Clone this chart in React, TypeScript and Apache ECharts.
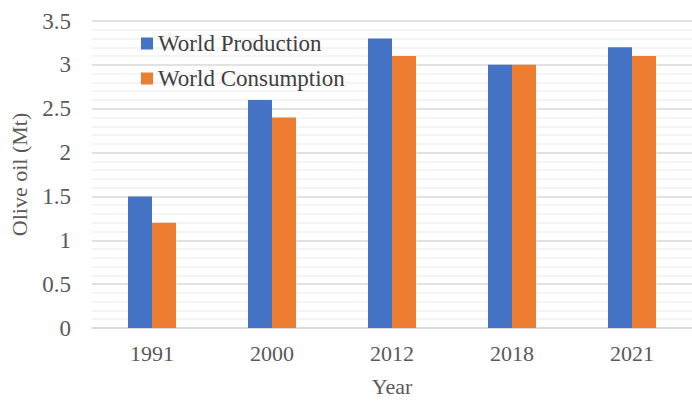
import React, { useEffect, useRef } from "react";
import * as echarts from "echarts";

const years = ["1991", "2000", "2012", "2018", "2021"];
const production = [1.5, 2.6, 3.3, 3.0, 3.2];
const consumption = [1.2, 2.4, 3.1, 3.0, 3.1];

export default function App() {
  const ref = useRef<HTMLDivElement>(null);
  useEffect(() => {
    const chart = echarts.init(ref.current!, null, { renderer: "svg" });
    const font = "Liberation Serif";
    chart.setOption({
      animation: false,
      textStyle: { fontFamily: font },
      legend: {
        orient: "vertical",
        left: 136,
        top: 27,
        itemWidth: 12,
        itemHeight: 12,
        itemGap: 12,
        icon: "rect",
        textStyle: { fontFamily: font, fontSize: 23, color: "#404040" },
        data: ["World Production", "World Consumption"],
      },
      grid: { left: 90, right: -10, top: 21, bottom: 69 },
      xAxis: {
        type: "category",
        data: years,
        name: "Year",
        nameLocation: "middle",
        nameGap: 47,
        nameTextStyle: { fontFamily: font, fontSize: 22, color: "#595959" },
        axisLine: { lineStyle: { color: "#d9d9d9", width: 1.5 } },
        axisTick: { show: false },
        axisLabel: { fontFamily: font, fontSize: 22, color: "#595959", margin: 14 },
      },
      yAxis: {
        type: "value",
        min: 0,
        max: 3.5,
        interval: 0.5,
        name: "Olive oil (Mt)",
        nameLocation: "middle",
        nameGap: 62,
        nameTextStyle: { fontFamily: font, fontSize: 22, color: "#595959" },
        axisLine: { show: false },
        axisTick: { show: false },
        axisLabel: { fontFamily: font, fontSize: 23, color: "#595959", margin: 21 },
        splitLine: { lineStyle: { color: "#d9d9d9", width: 1.5 } },
        minorTick: { show: false, splitNumber: 5 },
        minorSplitLine: { show: true, lineStyle: { color: "#f0f0f0", width: 1.5 } },
      },
      series: [
        {
          name: "World Production",
          type: "bar",
          data: production,
          barWidth: 24,
          barGap: "0%",
          itemStyle: { color: "#4472c4" },
        },
        {
          name: "World Consumption",
          type: "bar",
          data: consumption,
          barWidth: 24,
          barGap: "0%",
          itemStyle: { color: "#ed7d31" },
        },
      ],
    });
    return () => chart.dispose();
  }, []);
  return (
    <div
      ref={ref}
      style={{ position: "absolute", left: 0, top: 0, width: 692, height: 402 }}
    />
  );
}
